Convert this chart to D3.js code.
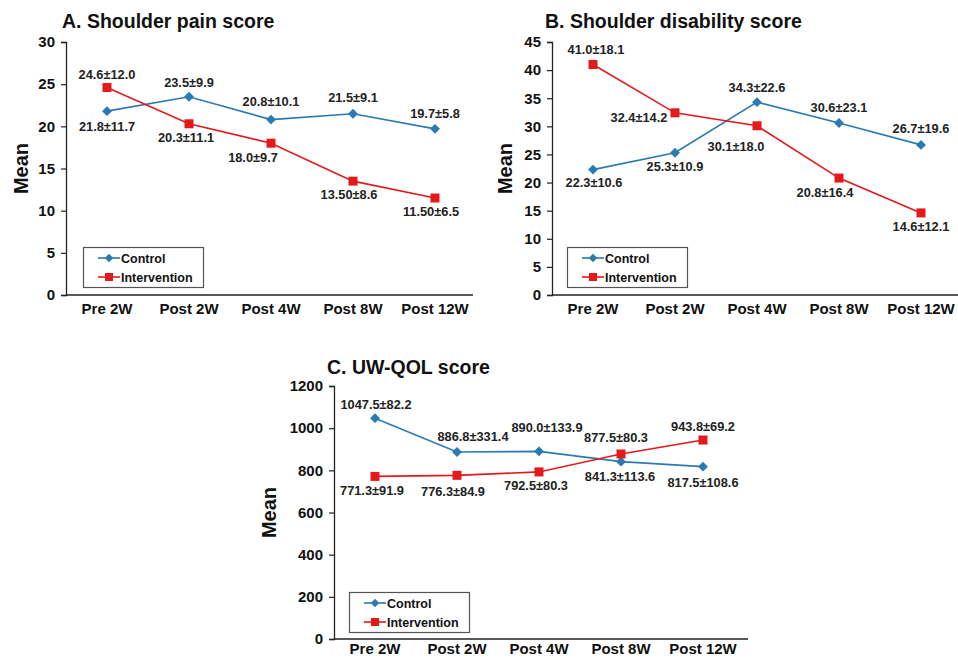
<!DOCTYPE html>
<html><head><meta charset="utf-8">
<script src="https://cdn.jsdelivr.net/npm/d3@7"></script>
<style>
body{margin:0;background:#fff;}
svg{display:block;font-family:"Liberation Sans",Arial,sans-serif;}
</style></head>
<body><svg id="chart" width="958" height="659"></svg>
<script>
// ---------- DATA ----------
const categories = ["Pre 2W", "Post 2W", "Post 4W", "Post 8W", "Post 12W"];
const seriesNames = ["Control", "Intervention"];

const painControl = [21.8, 23.5, 20.8, 21.5, 19.7];
const painControlSD = ["11.7", "9.9", "10.1", "9.1", "5.8"];
const painIntervention = [24.6, 20.3, 18.0, 13.5, 11.5];
const painInterventionLabel = ["24.6", "20.3", "18.0", "13.50", "11.50"];
const painInterventionSD = ["12.0", "11.1", "9.7", "8.6", "6.5"];

const disControl = [22.3, 25.3, 34.3, 30.6, 26.7];
const disControlSD = ["10.6", "10.9", "22.6", "23.1", "19.6"];
const disIntervention = [41.0, 32.4, 30.1, 20.8, 14.6];
const disInterventionSD = ["18.1", "14.2", "18.0", "16.4", "12.1"];

const qolControl = [1047.5, 886.8, 890.0, 841.3, 817.5];
const qolControlSD = ["82.2", "331.4", "133.9", "113.6", "108.6"];
const qolIntervention = [771.3, 776.3, 792.5, 877.5, 943.8];
const qolInterventionSD = ["91.9", "84.9", "80.3", "80.3", "69.2"];

const painTicks = [0, 5, 10, 15, 20, 25, 30];
const disTicks = [0, 5, 10, 15, 20, 25, 30, 35, 40, 45];
const qolTicks = [0, 200, 400, 600, 800, 1000, 1200];

// ---------- LAYOUT ----------
const COL_C = "#2a7ab4", COL_I = "#e3191c";
const svg = d3.select("#chart");

const panels = [
  {
    title: "A. Shoulder pain score", titleX: 62, titleY: 28,
    x0: 66, x1: 476, xAxisEnd: 473, yTop: 42, yBot: 295, ticks: painTicks, yMax: 30, xPad: 8,
    meanX: 28, legend: [83, 247],
    control: painControl, controlLbl: painControl.map(v => v.toFixed(1)), controlSD: painControlSD,
    inter: painIntervention, interLbl: painInterventionLabel, interSD: painInterventionSD,
    cOff: [[0, 20], [0, -10], [0, -14], [0, -12], [0, -11]],
    iOff: [[0, -9], [-3, 18], [-18, 19], [-4, 18], [-4, 18]]
  },
  {
    title: "B. Shoulder disability score", titleX: 545, titleY: 28,
    x0: 552, x1: 962, xAxisEnd: 958, yTop: 42, yBot: 295, ticks: disTicks, yMax: 45, xPad: 8,
    meanX: 512, legend: [567, 247],
    control: disControl, controlLbl: disControl.map(v => v.toFixed(1)), controlSD: disControlSD,
    inter: disIntervention, interLbl: disIntervention.map(v => v.toFixed(1)), interSD: disInterventionSD,
    cOff: [[1, 17], [0, 18], [0, -10], [0, -11], [0, -12]],
    iOff: [[3, -10], [-36, 9], [-21, 25], [-14, 19], [0, 18]]
  },
  {
    title: "C. UW-QOL score", titleX: 327, titleY: 374,
    x0: 334, x1: 744, xAxisEnd: 748, yTop: 386, yBot: 639, ticks: qolTicks, yMax: 1200, xPad: 4,
    meanX: 276, legend: [349, 592],
    control: qolControl, controlLbl: qolControl.map(v => v.toFixed(1)), controlSD: qolControlSD,
    inter: qolIntervention, interLbl: qolIntervention.map(v => v.toFixed(1)), interSD: qolInterventionSD,
    cOff: [[1, -9], [16, -11], [8, -19], [-1, 19], [0, 20]],
    iOff: [[-3, 19], [-4, 21], [-3, 18], [-5, -12], [0, -9]]
  }
];

function square(g, x, y, col) {
  g.append("rect").attr("x", x - 4.5).attr("y", y - 4.5).attr("width", 9).attr("height", 9).attr("fill", col);
}
function diamond(g, x, y, col, s) {
  g.append("rect").attr("x", -s / 2).attr("y", -s / 2).attr("width", s).attr("height", s).attr("fill", col)
    .attr("transform", `translate(${x},${y}) rotate(45)`);
}

panels.forEach(p => {
  const g = svg.append("g");
  const x = d3.scaleBand().domain(categories).range([p.x0, p.x1]).padding(0);
  const y = d3.scaleLinear().domain([0, p.yMax]).range([p.yBot, p.yTop]);
  const cx = c => x(c) + x.bandwidth() / 2;

  // title
  g.append("text").attr("x", p.titleX).attr("y", p.titleY).text(p.title)
    .attr("font-size", 19.5).attr("font-weight", "bold").attr("fill", "#111");

  // y axis
  const ya = g.append("g").attr("transform", `translate(${p.x0},0)`)
    .call(d3.axisLeft(y).tickValues(p.ticks).tickFormat(d3.format("d")).tickSize(5).tickPadding(6));
  ya.select(".domain").attr("stroke", "#222").attr("stroke-width", 1.3);
  ya.selectAll(".tick line").attr("stroke", "#222").attr("stroke-width", 1.2);
  ya.selectAll(".tick text").attr("font-size", 15).attr("font-weight", "bold")
    .attr("font-family", "Liberation Sans, Arial, sans-serif").attr("fill", "#111");

  // x axis
  const xa = g.append("g").attr("transform", `translate(0,${p.yBot})`)
    .call(d3.axisBottom(x).tickSize(0).tickPadding(p.xPad));
  xa.select(".domain").attr("d", `M${p.x0},0H${p.xAxisEnd}`).attr("stroke", "#222").attr("stroke-width", 1.3);
  xa.selectAll(".tick text").attr("font-size", 15).attr("font-weight", "bold")
    .attr("font-family", "Liberation Sans, Arial, sans-serif").attr("fill", "#111");

  // y label
  g.append("text").attr("transform", `translate(${p.meanX},${(p.yTop + p.yBot) / 2}) rotate(-90)`)
    .attr("text-anchor", "middle").attr("font-size", 20).attr("font-weight", "bold").attr("fill", "#111").text("Mean");

  const line = d3.line().x((d, i) => cx(categories[i])).y(d => y(d));
  g.append("path").datum(p.control).attr("d", line).attr("fill", "none").attr("stroke", COL_C).attr("stroke-width", 1.6);
  g.append("path").datum(p.inter).attr("d", line).attr("fill", "none").attr("stroke", COL_I).attr("stroke-width", 1.6);

  p.control.forEach((v, i) => diamond(g, cx(categories[i]), y(v), COL_C, 7));
  p.inter.forEach((v, i) => square(g, cx(categories[i]), y(v), COL_I));

  const lbl = (v, txt, sd, i, off) => {
    g.append("text").attr("x", cx(categories[i]) + off[0]).attr("y", y(v) + off[1])
      .attr("text-anchor", "middle").attr("font-size", 12.8).attr("font-weight", "bold").attr("fill", "#222")
      .text(txt + "±" + sd);
  };
  p.control.forEach((v, i) => lbl(v, p.controlLbl[i], p.controlSD[i], i, p.cOff[i]));
  p.inter.forEach((v, i) => lbl(v, p.interLbl[i], p.interSD[i], i, p.iOff[i]));

  // legend
  const [lx, ly] = p.legend;
  const lg = g.append("g").attr("transform", `translate(${lx},${ly})`);
  lg.append("rect").attr("x", 0.5).attr("y", 0.5).attr("width", 120).attr("height", 40)
    .attr("fill", "#fff").attr("stroke", "#555").attr("stroke-width", 1.2);
  [[seriesNames[0], COL_C, 11], [seriesNames[1], COL_I, 30]].forEach(([name, col, yy], k) => {
    lg.append("line").attr("x1", 15).attr("x2", 37).attr("y1", yy).attr("y2", yy).attr("stroke", col).attr("stroke-width", 1.6);
    if (k === 0) diamond(lg, 26, yy, col, 6);
    else lg.append("rect").attr("x", 22).attr("y", yy - 4).attr("width", 8).attr("height", 8).attr("fill", col);
    lg.append("text").attr("x", 38).attr("y", yy + 4.5).attr("font-size", 12.5).attr("font-weight", "bold").attr("fill", "#111").text(name);
  });
});
</script></body></html>
